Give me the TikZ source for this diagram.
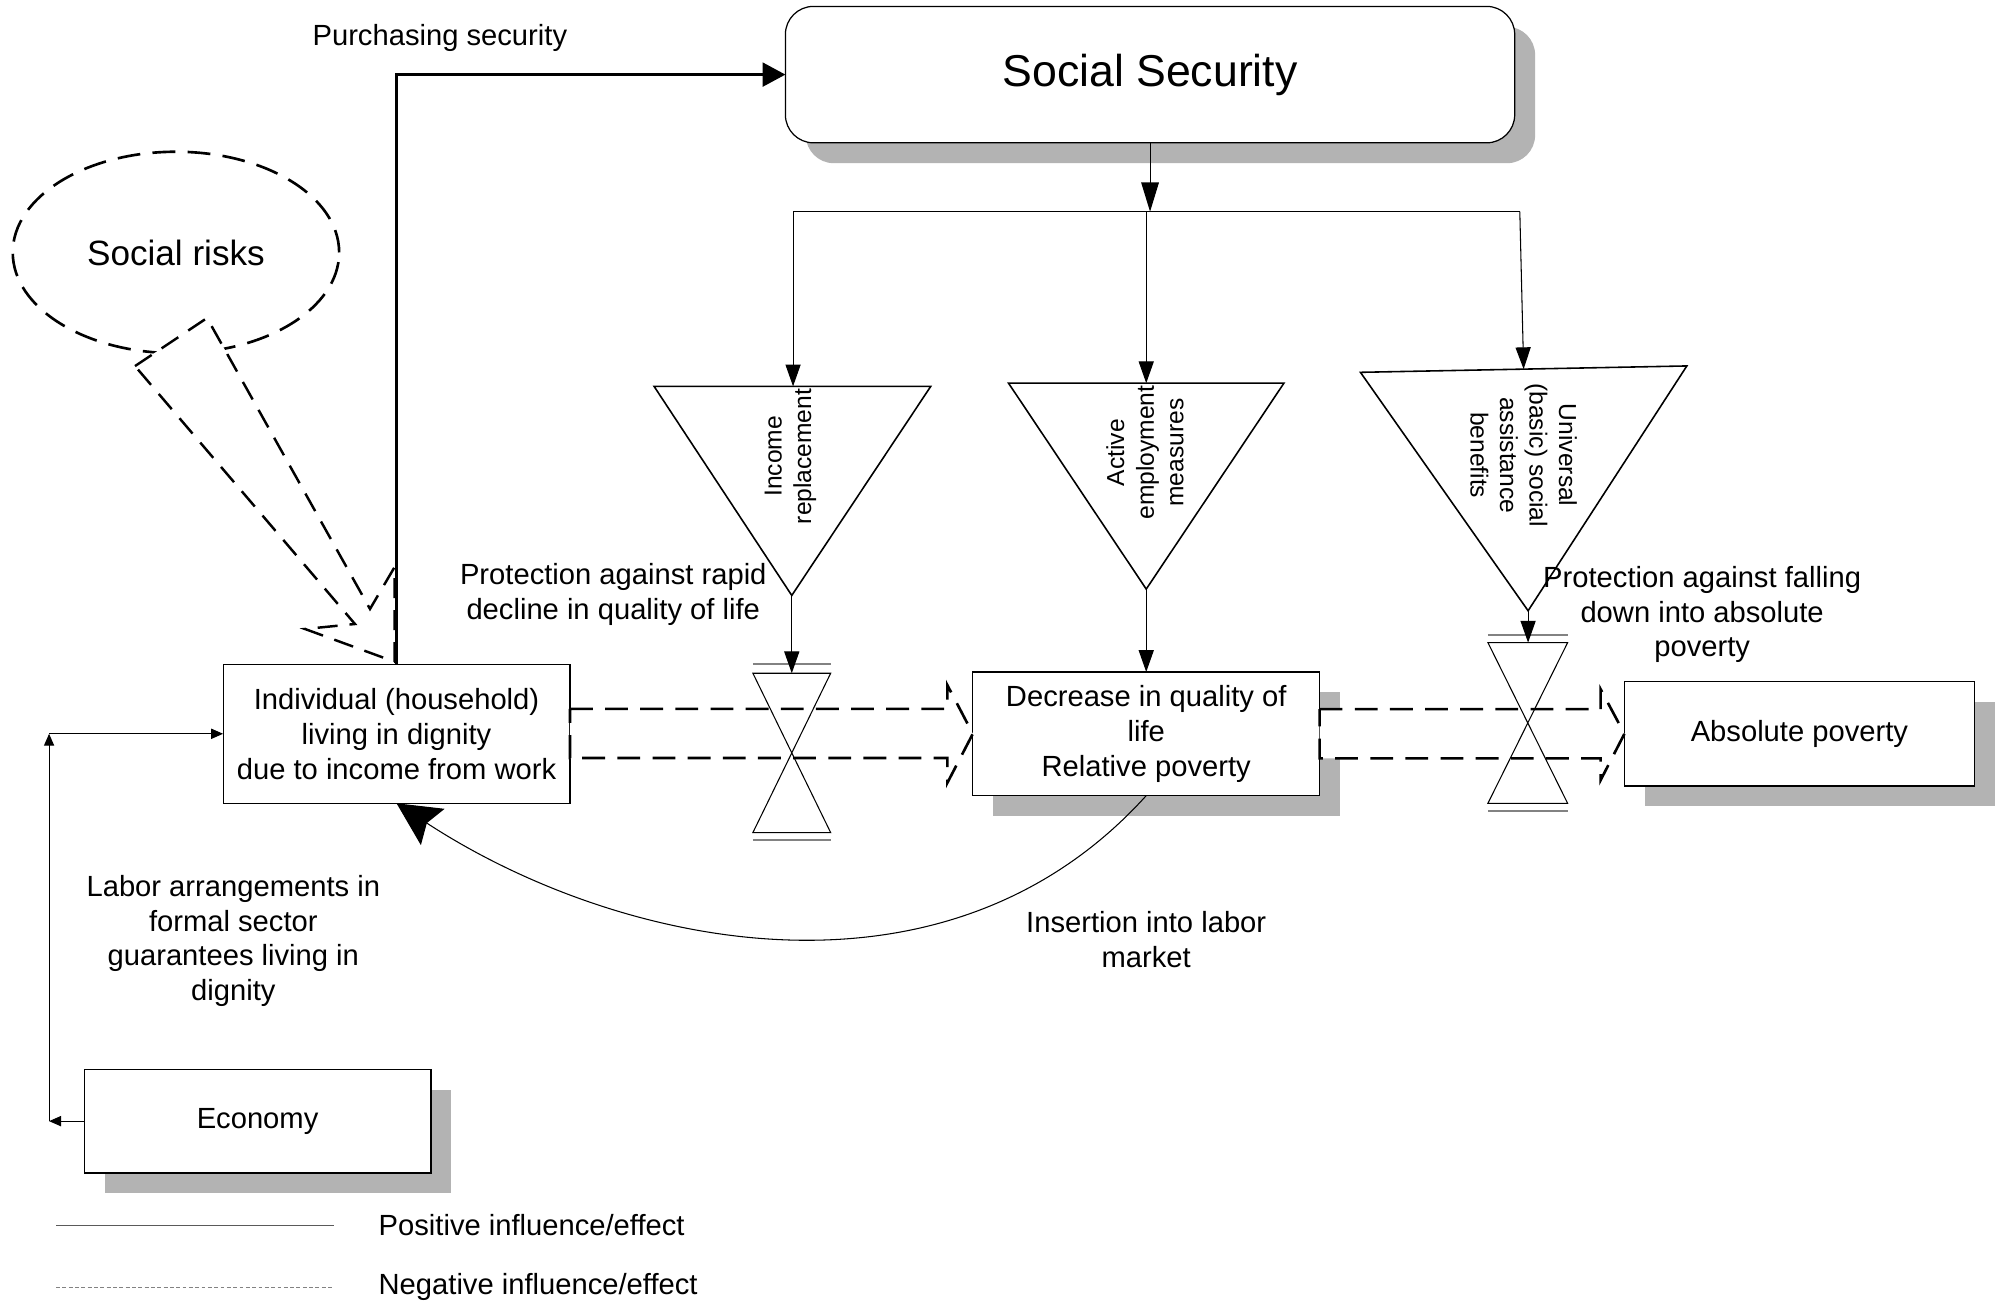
\documentclass[tikz,border=0pt]{standalone}
\usepackage{fontspec}
\setmainfont{Liberation Sans}
\usetikzlibrary{arrows.meta,shapes.geometric,shadows,calc}
\newlength{\dpx}\setlength{\dpx}{0.1275mm}
\definecolor{shadowgray}{RGB}{179,179,179}
\definecolor{legdark}{RGB}{90,90,90}
\definecolor{leggray}{RGB}{130,130,130}
\begin{document}
\begin{tikzpicture}[x=0.1275mm, y=-0.1275mm,
  every node/.style={font=\fontsize{8.3}{9.9}\selectfont, inner sep=0pt, outer sep=0pt},
  box/.style={draw, line width=0.35pt, fill=white, minimum width=272\dpx, align=center},
  shadowed/.style={general shadow={fill=shadowgray, shadow xshift=16\dpx, shadow yshift=-16\dpx}},
  thinline/.style={line width=0.3pt},
  bigtip/.style={-{Triangle[length=8.3pt,width=5pt]}},
  midtip/.style={-{Triangle[length=6.2pt,width=4.3pt]}},
  smalltip/.style={-{Triangle[length=3.4pt,width=2.9pt]}},
  negdash/.style={line width=0.75pt, dash pattern=on 6.5pt off 3.5pt},
  tri/.style={line width=0.45pt},
  glass/.style={line width=0.3pt},
  glassbar/.style={line width=0.5pt, draw=leggray},
  rottext/.style={font=\fontsize{7}{8.4}\selectfont, align=center},
  lbl/.style={align=center},
]
\useasboundingbox (0,0) rectangle (1567.06,1020.4);

% Social security
\node[box, shadowed, rounded corners=22\dpx, minimum width=572\dpx, minimum height=107\dpx,
      font=\fontsize{12.7}{15}\selectfont] (ss) at (902,58.5) {Social Security};

% Social risks callout
\node[draw, ellipse, negdash, minimum width=256\dpx, minimum height=158\dpx,
      font=\fontsize{10}{12}\selectfont] (risk) at (138,198) {Social risks};
\draw[line width=0.7pt, dash pattern=on 5.7pt off 3.4pt, fill=white]
  (105.9,287.1) -- (162.4,249.4) -- (290.2,477.6) -- (309.5,444.7) -- (309.5,519)
  -- (239.2,493.3) -- (278.4,489.4) -- cycle;

% boxes
\node[box, minimum height=109\dpx] (ind) at (311,575.5) {Individual (household)\\living in dignity\\due to income from work};
\node[box, shadowed, minimum height=97\dpx] (dec) at (899,575.5) {Decrease in quality of\\life\\Relative poverty};
\node[box, shadowed, minimum width=274.5\dpx, minimum height=82\dpx] (ap) at (1411.3,575.5) {Absolute poverty};
\node[box, shadowed, minimum height=81.4\dpx] (eco) at (202,879.3) {Economy};

% negative block arrows
\draw[negdash, fill=white] ($(ind.east)+(0,-19.5)$) -- (743,556) -- (743,537.3) -- (dec.west)
  -- (743,614) -- (743,594.5) -- ($(ind.east)+(0,19)$) -- cycle;
\draw[negdash, fill=white] ($(dec.east)+(0,-19.3)$) -- (1255.4,556.2) -- (1255.4,540.6) -- (ap.west)
  -- (1255.4,611.8) -- (1255.4,594.8) -- ($(dec.east)+(0,19.3)$) -- cycle;

% hourglasses
\coordinate (h1top) at (621,528);
\coordinate (h2top) at (1198.5,504);
\draw[glass] (590.5,528) -- (651.5,528) -- (590.5,653) -- (651.5,653) -- cycle;
\draw[glassbar] (590.5,521) -- (651.5,521);
\draw[glassbar] (590.5,659) -- (651.5,659);
\draw[glass] (1167,504) -- (1229.5,504) -- (1167,630) -- (1229.5,630) -- cycle;
\draw[glassbar] (1167,498) -- (1229.5,498);
\draw[glassbar] (1167,636) -- (1229.5,636);

% triangles
\coordinate (t1top) at (622,303);
\coordinate (t1a) at (621,467);
\coordinate (t2top) at (899,300.5);
\coordinate (t2a) at (899,462);
\coordinate (t3top) at (1195,289.5);
\coordinate (t3a) at (1198.5,479);
\draw[tri] (513,303) -- (730,303) -- (t1a) -- cycle;
\draw[tri] (791,300.5) -- (1007,300.5) -- (t2a) -- cycle;
\draw[tri] (1067,292) -- (1323,287) -- (t3a) -- cycle;
\node[rottext, rotate=90] (t1txt) at (620,358) {Income\\replacement};
\node[rottext, rotate=90] (t2txt) at (898,355) {Active\\employment\\measures};
\node[rottext, rotate=-90] (t3txt) at (1195,357) {Universal\\(basic) social\\assistance\\benefits};

% distribution arrows
\coordinate (split) at (902,166);
\coordinate (b1) at (622,166);
\coordinate (b2) at (899,166);
\coordinate (b3) at (1192,166);
\draw[thinline, bigtip] (ss.south) -- (split);
\draw[thinline] (b1) -- (b3);
\draw[thinline, midtip] (b1) -- (t1top);
\draw[thinline, midtip] (b2) -- (t2top);
\draw[thinline, midtip] (b3) -- (t3top);
\draw[thinline, midtip] (t1a) -- (h1top);
\draw[thinline, midtip] (t2a) -- (dec.north);
\draw[thinline, midtip] (t3a) -- (h2top);

% purchasing security
\draw[line width=0.75pt, -{Triangle[length=6.5pt,width=6.8pt]}] (ind.north) |- (ss.west);

% insertion into labor market
\draw[thinline, -{Stealth[length=12.3pt,width=12.3pt,inset=2pt]}] (dec.south) .. controls (740,800) and (482.6,742.2) .. (ind.south);

% economy loop
\coordinate (lcb) at ($(eco.west)+(-27.5,0)$);
\coordinate (lct) at (lcb |- ind.west);
\draw[thinline, smalltip] (eco.west) -- (lcb);
\draw[thinline, smalltip] (lcb) -- (lct);
\draw[thinline, smalltip] (lct) -- (ind.west);

% labels
\node[lbl] (purch) at (345,30) {Purchasing security};
\node[lbl] (prot1) at (481,466) {Protection against rapid\\decline in quality of life};
\node[lbl] (prot2) at (1335,482) {Protection against falling\\down into absolute\\poverty};
\node[lbl] (labor) at (183,738) {Labor arrangements in\\formal sector\\guarantees living in\\dignity};
\node[lbl] (insert) at (899,737) {Insertion into labor\\market};

% legend
\coordinate (lp1) at (44,961);
\coordinate (lp2) at (262,961);
\coordinate (ln1) at (44,1009.6);
\coordinate (ln2) at (262,1009.6);
\draw[legdark, line width=0.4pt] (lp1) -- (lp2);
\draw[leggray, line width=0.4pt, dash pattern=on 1.1pt off 0.7pt] (ln1) -- (ln2);
\node[anchor=west] (legpos) at (297,961) {Positive influence/effect};
\node[anchor=west] (legneg) at (297,1009.6) {Negative influence/effect};
\end{tikzpicture}
\end{document}
